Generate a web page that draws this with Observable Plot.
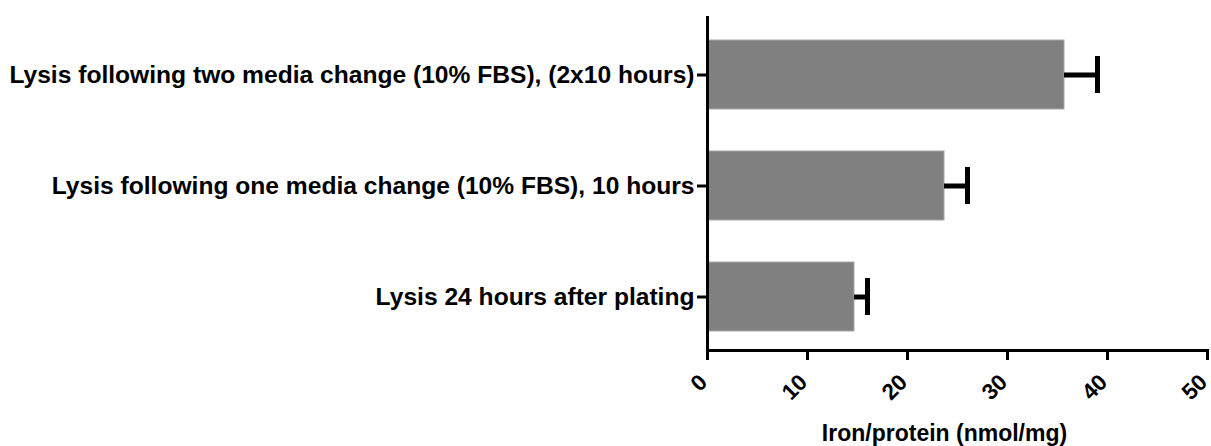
<!DOCTYPE html>
<html>
<head>
<meta charset="utf-8">
<script src="https://cdn.jsdelivr.net/npm/d3@7"></script>
<script src="https://cdn.jsdelivr.net/npm/@observablehq/plot@0.6"></script>
<style>
  html, body { margin: 0; padding: 0; background: #fff; }
  #chart svg { display: block; }
</style>
</head>
<body>
<div id="chart"></div>
<script>
// Conditions, top to bottom
const conditions = [
  "Lysis following two media change (10% FBS), (2x10 hours)",
  "Lysis following one media change (10% FBS), 10 hours",
  "Lysis 24 hours after plating"
];
// Mean iron/protein (nmol/mg) and upper error (SD)
const means = [35.7, 23.7, 14.7];
const errors = [3.3, 2.3, 1.3];
const xTicks = [0, 10, 20, 30, 40, 50];
const xTitle = "Iron/protein (nmol/mg)";

const rows = conditions.map((c, i) => ({condition: c, mean: means[i], hi: means[i] + errors[i]}));

const font = "'Liberation Sans', Arial, Helvetica, sans-serif";

const chart = Plot.plot({
  width: 1211,
  height: 446,
  marginLeft: 707,
  marginRight: 4,
  marginTop: 16,
  marginBottom: 96,
  style: {fontFamily: font, color: "#000", background: "#fff", overflow: "visible"},
  x: {domain: [0, 50]},
  y: {domain: conditions, range: [18, 352], paddingInner: 0.38, paddingOuter: 0.19},
  marks: [
    Plot.barX(rows, {x: "mean", y: "condition", fill: "#808080", stroke: "#a8a8a8", strokeWidth: 1}),
    // one-sided error bars with caps
    Plot.ruleY(rows, {y: "condition", x1: "mean", x2: "hi", stroke: "#000", strokeWidth: 5}),
    Plot.tickX(rows, {x: "hi", y: "condition", stroke: "#000", strokeWidth: 5, insetTop: 16, insetBottom: 16}),
    // axis lines
    Plot.ruleX([0], {stroke: "#000", strokeWidth: 3}),
    Plot.frame({anchor: "bottom", stroke: "#000", strokeWidth: 3}),
    Plot.axisY({
      tickSize: 10, tickPadding: 3, strokeWidth: 3,
      fontSize: 24.6, fontWeight: "bold", label: null
    }),
    Plot.axisX({
      ticks: xTicks, tickSize: 10, strokeWidth: 3,
      tickFormat: () => null, label: null
    }),
    // rotated tick labels
    Plot.text(xTicks, {
      x: d => d, text: d => String(d), frameAnchor: "bottom",
      rotate: -45, textAnchor: "end", lineAnchor: "middle",
      dx: -4, dy: 28, fontSize: 22.5, fontWeight: "bold", fill: "#000"
    }),
    // axis title
    Plot.text([xTitle], {
      text: d => d, frameAnchor: "bottom", lineAnchor: "bottom",
      dx: -13, dy: 90, fontSize: 23, fontWeight: "bold", fill: "#000"
    })
  ]
});

document.getElementById("chart").appendChild(chart);
</script>
</body>
</html>
